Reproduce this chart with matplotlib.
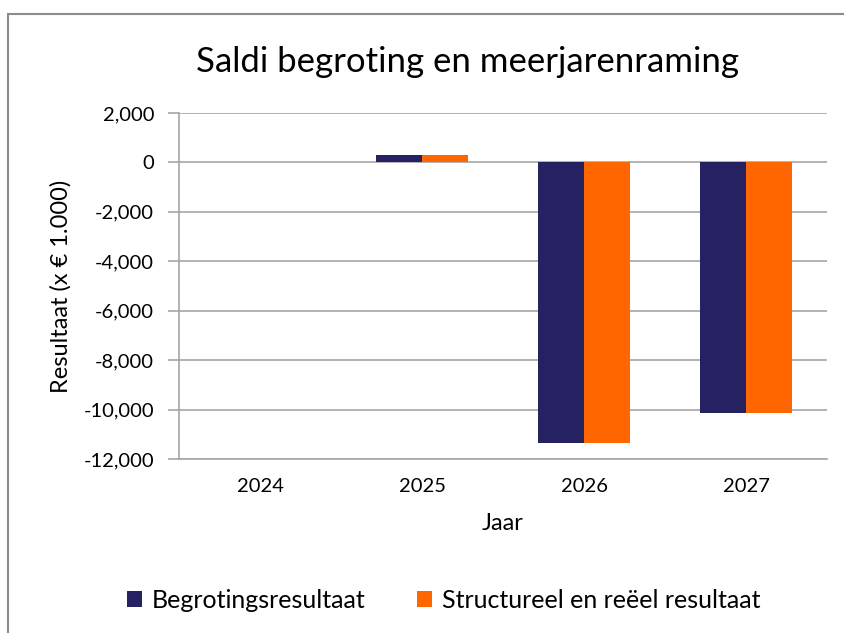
import matplotlib.pyplot as plt
import numpy as np
from matplotlib.patches import Rectangle

jaren = ['2024', '2025', '2026', '2027']
begroting = [15, 290, -11340, -10130]
structureel = [15, 290, -11340, -10130]
yticks = [2000, 0, -2000, -4000, -6000, -8000, -10000, -12000]

plt.rcParams['font.family'] = ['Lato', 'DejaVu Sans']

fig = plt.figure(figsize=(8.44, 6.33), dpi=100)
ax = fig.add_axes([179/844, 1-459/633, (827-179)/844, (459-113)/633])

grijs = '#A6A6A6'
x = np.arange(len(jaren))
w = 0.283
ax.bar(x - w/2, begroting, w, color='#262262', label='Begrotingsresultaat', zorder=3)
ax.bar(x + w/2, structureel, w, color='#FF6600', label='Structureel en reëel resultaat', zorder=3)

ax.set_xlim(-0.5, 3.5)
ax.set_ylim(-12000, 2000)
ax.set_yticks(yticks)
ax.set_yticklabels(['{:,}'.format(v) for v in yticks], fontsize=14.5)
ax.set_xticks(x)
ax.set_xticklabels(jaren, fontsize=14.5)
ax.grid(axis='y', color=grijs, linewidth=1.2, zorder=0)
for s in ['top', 'right']:
    ax.spines[s].set_visible(False)
ax.spines['left'].set_color(grijs)
ax.spines['bottom'].set_color(grijs)
ax.spines['left'].set_linewidth(1.2)
ax.spines['bottom'].set_linewidth(1.2)
ax.tick_params(axis='y', length=8, color=grijs, width=1.2, pad=10)
ax.tick_params(axis='x', length=0, pad=14)

ax.set_xlabel('Jaar', fontsize=17, labelpad=13)
ax.set_ylabel('Resultaat (x € 1.000)', fontsize=17, labelpad=8.5)

fig.text(467/844, 1-62/633, 'Saldi begroting en meerjarenraming', fontsize=25,
         ha='center', va='center')

fig.legend(loc='center', bbox_to_anchor=(444/844, 1-600/633), ncol=2, frameon=False,
           fontsize=18, handlelength=0.6, handleheight=0.6, handletextpad=0.4,
           columnspacing=2.05)

fig.patches.append(Rectangle((8/844, -0.1), 1.2, 1-14/633+0.1, transform=fig.transFigure,
                             fill=False, edgecolor='#8C8C8C', linewidth=1.5))

fig.savefig('out.png', dpi=100)
